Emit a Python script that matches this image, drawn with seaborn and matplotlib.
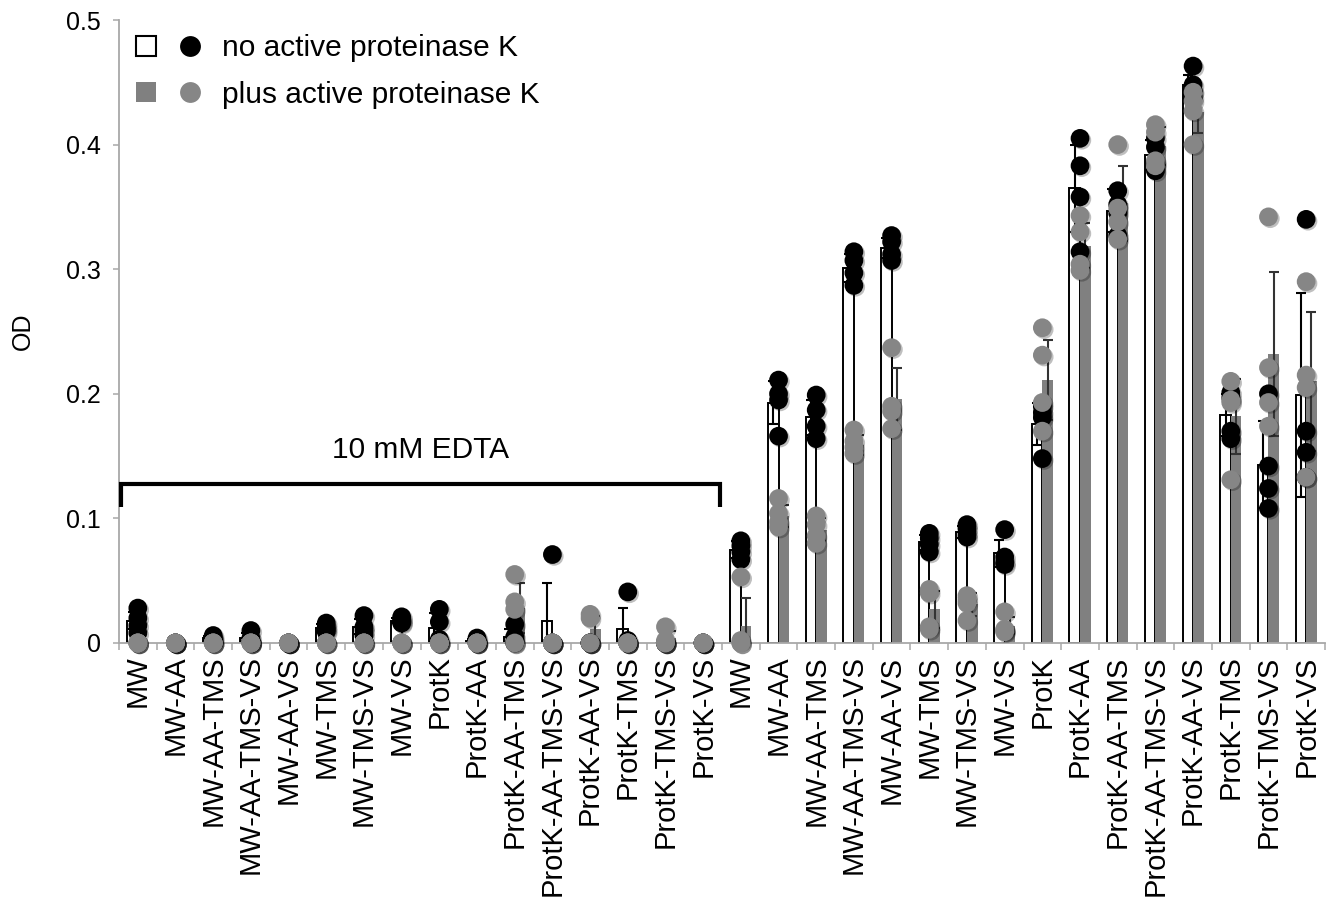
import numpy as np
import pandas as pd
import matplotlib
matplotlib.use("Agg")
import matplotlib.pyplot as plt
import matplotlib.patheffects as pe
from matplotlib.lines import Line2D
from matplotlib.legend_handler import HandlerTuple
from matplotlib.ticker import FixedLocator
import seaborn as sns

# ---- data -------------------------------------------------------------
conditions = ["MW", "MW-AA", "MW-AA-TMS", "MW-AA-TMS-VS", "MW-AA-VS",
              "MW-TMS", "MW-TMS-VS", "MW-VS", "ProtK", "ProtK-AA",
              "ProtK-AA-TMS", "ProtK-AA-TMS-VS", "ProtK-AA-VS",
              "ProtK-TMS", "ProtK-TMS-VS", "ProtK-VS"]
tick_labels = conditions + conditions          # with EDTA, then without
bracket_text = "10 mM EDTA"
series_names = ["no active proteinase K", "plus active proteinase K"]
y_ticks = [0, 0.1, 0.2, 0.3, 0.4, 0.5]
y_tick_labels = ["0", "0.1", "0.2", "0.3", "0.4", "0.5"]

no_active_mean = [0.018, 0.0, 0.004, 0.004, 0.0, 0.012, 0.013, 0.018,
                  0.012, 0.002, 0.005, 0.018, 0.0, 0.011, 0.0, 0.0,
                  0.075, 0.193, 0.181, 0.301, 0.317, 0.081, 0.089, 0.072,
                  0.176, 0.365, 0.347, 0.392, 0.448, 0.183, 0.143, 0.199]
no_active_sd = [0.007, 0.0, 0.002, 0.004, 0.0, 0.003, 0.006, 0.002,
                0.012, 0.001, 0.006, 0.030, 0.0, 0.017, 0.0, 0.0,
                0.007, 0.017, 0.014, 0.011, 0.008, 0.006, 0.005, 0.011,
                0.017, 0.035, 0.017, 0.012, 0.008, 0.017, 0.035, 0.082]
plus_active_mean = [0.0, 0.0, 0.0, 0.0, 0.0, 0.0, 0.0, 0.0,
                    0.0, 0.0, 0.028, 0.0, 0.011, 0.0, 0.004, 0.0,
                    0.014, 0.102, 0.091, 0.159, 0.196, 0.027, 0.031, 0.014,
                    0.211, 0.319, 0.353, 0.399, 0.426, 0.182, 0.232, 0.210]
plus_active_sd = [0.0, 0.0, 0.0, 0.0, 0.0, 0.0, 0.0, 0.0,
                  0.0, 0.0, 0.020, 0.0, 0.011, 0.0, 0.006, 0.0,
                  0.022, 0.009, 0.009, 0.008, 0.025, 0.015, 0.009, 0.007,
                  0.032, 0.018, 0.030, 0.015, 0.017, 0.030, 0.066, 0.056]

# individual replicates
no_active_reps = [
    [0.028, 0.020, 0.014, 0.008], [0.0, 0.0, 0.0, 0.0],
    [0.006, 0.004, 0.003, 0.002], [0.010, 0.004, 0.001, 0.001],
    [0.0, 0.0, 0.0, 0.0], [0.016, 0.013, 0.011, 0.009],
    [0.022, 0.013, 0.010, 0.006], [0.021, 0.019, 0.017, 0.016],
    [0.027, 0.017, 0.003, 0.001], [0.004, 0.002, 0.001, 0.0],
    [0.015, 0.005, 0.001, 0.0], [0.071, 0.0, 0.0, 0.0],
    [0.0, 0.0, 0.0, 0.0], [0.041, 0.002, 0.0, 0.0],
    [0.0, 0.0, 0.0, 0.0], [0.0, 0.0, 0.0, 0.0],
    [0.082, 0.078, 0.073, 0.067], [0.211, 0.200, 0.195, 0.166],
    [0.199, 0.187, 0.174, 0.164], [0.314, 0.307, 0.297, 0.287],
    [0.327, 0.322, 0.312, 0.307], [0.088, 0.084, 0.079, 0.073],
    [0.095, 0.092, 0.088, 0.085], [0.091, 0.069, 0.065, 0.063],
    [0.190, 0.185, 0.181, 0.148], [0.405, 0.383, 0.358, 0.314],
    [0.363, 0.352, 0.345, 0.327], [0.405, 0.398, 0.385, 0.379],
    [0.463, 0.448, 0.443, 0.438], [0.201, 0.197, 0.170, 0.164],
    [0.200, 0.142, 0.124, 0.108], [0.340, 0.170, 0.153, 0.133],
]
plus_active_reps = [
    [0.0, 0.0, 0.0, 0.0], [0.0, 0.0, 0.0, 0.0],
    [0.0, 0.0, 0.0, 0.0], [0.0, 0.0, 0.0, 0.0],
    [0.0, 0.0, 0.0, 0.0], [0.0, 0.0, 0.0, 0.0],
    [0.0, 0.0, 0.0, 0.0], [0.0, 0.0, 0.0, 0.0],
    [0.0, 0.0, 0.0, 0.0], [0.0, 0.0, 0.0, 0.0],
    [0.055, 0.033, 0.027, 0.0], [0.0, 0.0, 0.0, 0.0],
    [0.023, 0.020, 0.0, 0.0], [0.0, 0.0, 0.0, 0.0],
    [0.013, 0.002, 0.0, 0.0], [0.0, 0.0, 0.0, 0.0],
    [0.053, 0.002, 0.0, 0.0], [0.116, 0.104, 0.097, 0.093],
    [0.102, 0.095, 0.086, 0.080], [0.171, 0.162, 0.157, 0.152],
    [0.237, 0.190, 0.186, 0.172], [0.043, 0.040, 0.013, 0.011],
    [0.038, 0.035, 0.032, 0.018], [0.025, 0.011, 0.010, 0.009],
    [0.253, 0.231, 0.193, 0.170], [0.343, 0.330, 0.304, 0.299],
    [0.400, 0.349, 0.338, 0.324], [0.416, 0.410, 0.387, 0.383],
    [0.442, 0.435, 0.427, 0.400], [0.210, 0.195, 0.193, 0.131],
    [0.342, 0.221, 0.193, 0.174], [0.290, 0.215, 0.205, 0.133],
]

# ---- styling ----------------------------------------------------------
BAR_GRAY = "#808080"
DOT_GRAY = "#868686"
AXIS_GRAY = "#a8a8a8"

sns.set_theme(style="white")
plt.rcParams["font.family"] = ["Liberation Sans", "DejaVu Sans"]
plt.rcParams["text.color"] = "black"
plt.rcParams["axes.labelcolor"] = "black"

n = len(tick_labels)
positions = list(range(n))

bars = pd.DataFrame({
    "pos": positions * 2,
    "OD": no_active_mean + plus_active_mean,
    "series": ["no"] * n + ["plus"] * n,
})
reps = pd.DataFrame(
    [(i, v, "no") for i, vals in enumerate(no_active_reps) for v in vals]
    + [(i, v, "plus") for i, vals in enumerate(plus_active_reps) for v in vals],
    columns=["pos", "OD", "series"],
)

fig = plt.figure(figsize=(13.27, 9.07), dpi=100)
ax = fig.add_axes([119 / 1327, 1 - 643 / 907, 1206 / 1327, 623 / 907])

sns.barplot(data=bars, x="pos", y="OD", hue="series", order=positions,
            hue_order=["no", "plus"],
            palette={"no": "white", "plus": BAR_GRAY},
            saturation=1, width=0.56, errorbar=None, legend=False, ax=ax)

white_bars, gray_bars = ax.containers[0], ax.containers[1]
for p in white_bars:
    p.set_edgecolor("black")
    p.set_linewidth(1.4)
    p.set_zorder(1)
for p in gray_bars:
    p.set_edgecolor("none")
    p.set_linewidth(0)
    p.set_zorder(1)

# standard-deviation whiskers centred on each bar
for container, sds, col in [(white_bars, no_active_sd, "black"),
                            (gray_bars, plus_active_sd, "#333333")]:
    for p, sd in zip(container, sds):
        if sd <= 0:
            continue
        x = p.get_x() + p.get_width() / 2
        ax.errorbar(x, p.get_height(), yerr=sd, fmt="none", ecolor=col,
                    elinewidth=1.5, capsize=3.8, capthick=1.5, zorder=2)

# replicate points: black first, grey on top
shadow = [pe.SimplePatchShadow(offset=(1.3, -1.3), shadow_rgbFace="black",
                               alpha=0.25), pe.Normal()]
before = len(ax.collections)
sns.stripplot(data=reps[reps.series == "no"], x="pos", y="OD",
              order=positions, color="black", jitter=False, size=13.5,
              linewidth=0, ax=ax, zorder=4)
sns.stripplot(data=reps[reps.series == "plus"], x="pos", y="OD",
              order=positions, color=DOT_GRAY, jitter=False, size=13.5,
              linewidth=0, ax=ax, zorder=5)
for coll in ax.collections[before:]:
    coll.set_clip_on(False)
    coll.set_path_effects(shadow)

# ---- axes -------------------------------------------------------------
ax.set_xlim(-0.5, n - 0.5)
ax.set_ylim(0, 0.5)
ax.set_yticks(y_ticks)
ax.set_yticklabels(y_tick_labels)
ax.set_xticks(positions)
ax.set_xticklabels(tick_labels, rotation=90)
ax.xaxis.set_minor_locator(FixedLocator(np.arange(-0.5, n, 1.0)))
ax.set_xlabel("")
ax.set_ylabel("OD", fontsize=18)
ax.yaxis.set_label_coords(-0.07, 0.5)

sns.despine(ax=ax)
for side in ["left", "bottom"]:
    ax.spines[side].set_color(AXIS_GRAY)
    ax.spines[side].set_linewidth(1.3)
ax.tick_params(axis="y", which="major", length=4, width=1.1, color=AXIS_GRAY,
               labelsize=18, pad=9, left=True, labelcolor="black")
ax.tick_params(axis="x", which="major", length=0, labelsize=21, pad=9,
               labelcolor="black")
ax.tick_params(axis="x", which="minor", length=5, width=1.1,
               color=AXIS_GRAY, bottom=True)

# bracket over the EDTA-treated samples
left = positions[0] - 0.46
right = positions[len(conditions) - 1] + 0.45
ax.plot([left, left, right, right], [0.109, 0.1276, 0.1276, 0.109],
        color="black", lw=3, solid_joinstyle="miter", solid_capstyle="butt",
        clip_on=False, zorder=3)
ax.text((left + right) / 2, 0.155, bracket_text, ha="center", va="center",
        fontsize=21.5)

# legend: open/filled square with matching dot
h_no = (Line2D([], [], ls="", marker="s", markersize=15,
               markerfacecolor="white", markeredgecolor="black",
               markeredgewidth=1.5),
        Line2D([], [], ls="", marker="o", markersize=15,
               markerfacecolor="black", markeredgewidth=0))
h_plus = (Line2D([], [], ls="", marker="s", markersize=15,
                 markerfacecolor=BAR_GRAY, markeredgewidth=0),
          Line2D([], [], ls="", marker="o", markersize=15,
                 markerfacecolor=DOT_GRAY, markeredgewidth=0))
ax.legend([h_no, h_plus], series_names,
          handler_map={tuple: HandlerTuple(ndivide=None, pad=0.5)},
          loc="upper left", bbox_to_anchor=(131 / 1327, 1 - 34 / 907),
          bbox_transform=fig.transFigure, frameon=False, borderpad=0,
          borderaxespad=0, handlelength=2.45, handletextpad=0.6,
          labelspacing=0.62, fontsize=21.5)

fig.savefig("out.png", dpi=100)
